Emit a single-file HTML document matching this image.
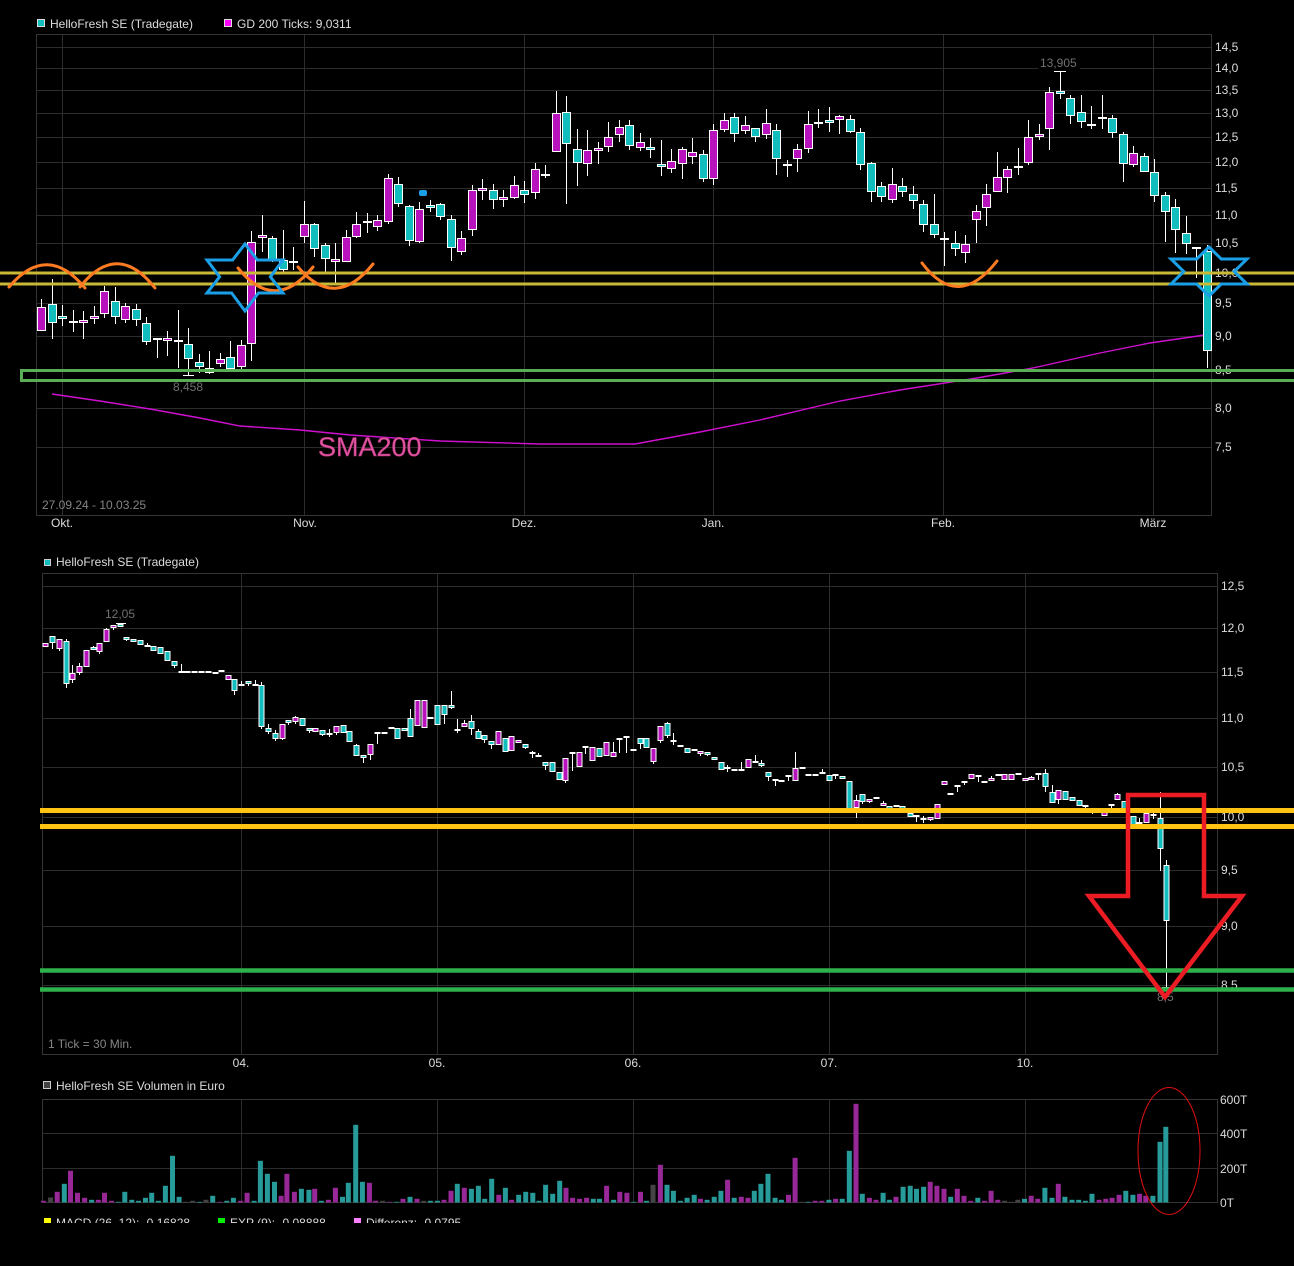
<!DOCTYPE html>
<html><head><meta charset="utf-8">
<style>
html,body{margin:0;padding:0;background:#000;}
svg{display:block;}
text{font-family:"Liberation Sans",Arial,sans-serif;font-size:12px;}
</style></head>
<body>
<svg id="s" width="1294" height="1266" viewBox="0 0 1294 1266" xmlns="http://www.w3.org/2000/svg">
<defs>
<clipPath id="clipBottom"><rect x="0" y="1210" width="1294" height="13"/></clipPath>
</defs>
<rect width="1294" height="1266" fill="#000"/>

<!-- ===== TOP CHART ===== -->
<path fill="none" stroke="#2c2c2c" stroke-width="1" d="M36 47.5H1211M36 68.5H1211M36 90.5H1211M36 113.5H1211M36 137.5H1211M36 162.5H1211M36 188.5H1211M36 215.5H1211M36 243.5H1211M36 273.5H1211M36 303.5H1211M36 336.5H1211M36 370.5H1211M36 408.5H1211M36 447.5H1211M62.5 34V515M304.5 34V515M524.5 34V515M713.5 34V515M943.5 34V515M1153.5 34V515"/>
<rect x="36.5" y="34.5" width="1175" height="481" fill="none" stroke="#353535"/>
<g fill="#dcdcdc">
<text x="1215" y="51">14,5</text>
<text x="1215" y="72">14,0</text>
<text x="1215" y="94">13,5</text>
<text x="1215" y="117">13,0</text>
<text x="1215" y="141">12,5</text>
<text x="1215" y="166">12,0</text>
<text x="1215" y="192">11,5</text>
<text x="1215" y="219">11,0</text>
<text x="1215" y="247">10,5</text>
<text x="1215" y="277">10,0</text>
<text x="1215" y="307">9,5</text>
<text x="1215" y="340">9,0</text>
<text x="1215" y="374">8,5</text>
<text x="1215" y="412">8,0</text>
<text x="1215" y="451">7,5</text>
</g>
<g fill="#dcdcdc" text-anchor="middle">
<text x="62" y="527">Okt.</text>
<text x="305" y="527">Nov.</text>
<text x="524" y="527">Dez.</text>
<text x="713" y="527">Jan.</text>
<text x="943" y="527">Feb.</text>
<text x="1153" y="527">März</text>
</g>
<rect x="37.5" y="19.5" width="7" height="7" fill="#12bdbd" stroke="#ddd"/>
<text x="50" y="28" fill="#dcdcdc">HelloFresh SE (Tradegate)</text>
<rect x="224.5" y="19.5" width="7" height="7" fill="#ff00ff" stroke="#ddd"/>
<text x="237" y="28" fill="#dcdcdc">GD 200 Ticks: 9,0311</text>
<text x="42" y="509" fill="#858585">27.09.24 - 10.03.25</text>
<text x="173" y="391" fill="#707070">8,458</text>
<rect x="1038" y="56" width="42" height="13" fill="#000"/>
<text x="1040" y="67" fill="#707070">13,905</text>

<polyline fill="none" stroke="#d010d0" stroke-width="1.4" points="52,394 100,401 150,409 200,418 240,426 300,430 350,435 440,441 540,444 635,444 700,432 760,420 840,401 900,390 977,378 1033,368 1100,353 1150,343 1205,335"/>
<text x="318" y="456" fill="#e0559f" stroke="#b0307a" stroke-width="0.5" style="font-size:27px">SMA200</text>

<g id="topc"></g>
<rect x="419" y="190" width="8" height="6" rx="2" fill="#1b9fe6"/>

<!-- top annotations -->
<line x1="0" y1="273" x2="1294" y2="273" stroke="#c9b936" stroke-width="3"/>
<line x1="0" y1="284" x2="1294" y2="284" stroke="#c9b936" stroke-width="3"/>
<rect x="21.5" y="370.5" width="1290" height="10" fill="none" stroke="#5aac55" stroke-width="3"/>
<g fill="none" stroke="#ff7b22" stroke-width="3" stroke-linecap="round">
<path d="M9 287Q47 242 85 288"/>
<path d="M80 287Q117 240 155 288"/>
<path d="M238 268Q275 314 313 267"/>
<path d="M298 267Q335 311 373 264"/>
<path d="M922 263Q958 311 997 261"/>
</g>
<g fill="none" stroke="#1b9fe6" stroke-width="3" stroke-linejoin="miter">
<polygon points="245,244 257.4,260 283,260 270.4,276.8 283,293 258.4,293 245,311 231.6,293 207,293 219.6,276.8 207,260 232.6,260"/>
<polygon points="1209,247 1221.3,259 1247,259 1234.2,271.5 1247,284 1221.3,284 1209,296 1196.7,284 1171,284 1183.8,271.5 1171,259 1196.7,259"/>
</g>

<!-- ===== BOTTOM CHART ===== -->
<path fill="none" stroke="#2c2c2c" stroke-width="1" d="M42 586.5H1217M42 628.5H1217M42 672.5H1217M42 718.5H1217M42 767.5H1217M42 817.5H1217M42 870.5H1217M42 926.5H1217M42 985.5H1217M241.5 573V1054M437.5 573V1054M633.5 573V1054M829.5 573V1054M1025.5 573V1054"/>
<rect x="42.5" y="573.5" width="1175" height="481" fill="none" stroke="#353535"/>
<g fill="#dcdcdc">
<text x="1221" y="590">12,5</text>
<text x="1221" y="632">12,0</text>
<text x="1221" y="676">11,5</text>
<text x="1221" y="722">11,0</text>
<text x="1221" y="771">10,5</text>
<text x="1221" y="821">10,0</text>
<text x="1221" y="874">9,5</text>
<text x="1221" y="930">9,0</text>
<text x="1221" y="989">8,5</text>
</g>
<g fill="#dcdcdc" text-anchor="middle">
<text x="241" y="1067">04.</text>
<text x="437" y="1067">05.</text>
<text x="633" y="1067">06.</text>
<text x="829" y="1067">07.</text>
<text x="1025" y="1067">10.</text>
</g>
<rect x="44.5" y="559.5" width="6" height="6" fill="#12bdbd" stroke="#ccc"/>
<text x="56" y="566" fill="#dcdcdc">HelloFresh SE (Tradegate)</text>
<text x="105" y="618" fill="#707070">12,05</text>
<text x="48" y="1048" fill="#858585">1 Tick = 30 Min.</text>
<text x="1157" y="1001" fill="#707070">8,5</text>

<g id="botc"></g>

<line x1="40" y1="810.5" x2="1294" y2="810.5" stroke="#ffc412" stroke-width="5"/>
<line x1="40" y1="826.5" x2="1294" y2="826.5" stroke="#ffc412" stroke-width="5"/>
<line x1="40" y1="970.5" x2="1294" y2="970.5" stroke="#2eb04a" stroke-width="4.5"/>
<line x1="40" y1="989.5" x2="1294" y2="989.5" stroke="#2eb04a" stroke-width="4.5"/>
<polygon points="1128,795 1204,795 1204,896 1242,896 1165,997 1089,896 1128,896" fill="none" stroke="#ec1c24" stroke-width="4.5" stroke-linejoin="miter"/>

<!-- ===== VOLUME ===== -->
<path fill="none" stroke="#2c2c2c" stroke-width="1" d="M42 1133.5H1217M42 1168.5H1217M241.5 1099V1202M437.5 1099V1202M633.5 1099V1202M829.5 1099V1202M1025.5 1099V1202"/>
<rect x="42.5" y="1099.5" width="1175" height="103" fill="none" stroke="#353535"/>
<g fill="#dcdcdc">
<text x="1220" y="1104">600T</text>
<text x="1220" y="1138">400T</text>
<text x="1220" y="1173">200T</text>
<text x="1220" y="1207">0T</text>
</g>
<rect x="43.5" y="1081.5" width="7" height="7" fill="#444" stroke="#ccc"/>
<text x="56" y="1090" fill="#dcdcdc">HelloFresh SE Volumen in Euro</text>
<g id="vol"></g>
<ellipse cx="1169" cy="1151" rx="31" ry="63.5" fill="none" stroke="#e01010" stroke-width="1"/>

<g clip-path="url(#clipBottom)">
<rect x="44" y="1218" width="7" height="7" fill="#ffff00"/>
<text x="56" y="1227" fill="#dcdcdc">MACD (26, 12): -0,16828</text>
<rect x="218" y="1218" width="7" height="7" fill="#00ee00"/>
<text x="230" y="1227" fill="#dcdcdc">EXP (9): -0,08888</text>
<rect x="354" y="1218" width="7" height="7" fill="#ff80ff"/>
<text x="366" y="1227" fill="#dcdcdc">Differenz: -0,0795</text>
</g>
</svg>

<script>
(function(){
var NS='http://www.w3.org/2000/svg';
function el(tag,a,p){var e=document.createElementNS(NS,tag);for(var k in a)e.setAttribute(k,a[k]);p.appendChild(e);return e;}
var COL={m:'#b812bd',c:'#12bdbd'};
function candle(p,x,bt,bb,wt,wb,t,half){
  var cx=x+0.5;
  if(wb>wt) el('line',{x1:cx,x2:cx,y1:wt,y2:wb,stroke:'#fff','stroke-width':1},p);
  if(t==='d'){
    el('rect',{x:cx-half,y:bt-1,width:half*2,height:2,fill:'#fff'},p);
  } else {
    var h=Math.max(bb-bt,3);
    el('rect',{x:cx-half+0.5,y:bt+0.5,width:half*2-1,height:h-1,fill:COL[t],stroke:'#fff','stroke-width':1},p);
  }
}
var T=[[307,331,299,331,'m'],[304,323,279,339,'c'],[316,319,305,326,'c'],[322,322,310,332,'d'],[320,322,311,339,'m'],[316,319,306,324,'m'],[291,314,286,318,'m'],[301,317,287,324,'c'],[306,320,303,323,'m'],[309,320,304,326,'c'],
[323,342,317,345,'c'],[339,339,339,358,'d'],[338,341,331,356,'m'],[341,341,310,368,'d'],[344,359,328,375,'c'],[362,367,354,373,'c'],[368,373,351,374,'m'],[359,364,353,367,'m'],[357,369,341,370,'c'],[345,367,340,370,'m'],
[242,344,231,361,'m'],[235,237,215,252,'m'],[238,260,236,262,'c'],[260,270,230,272,'c'],[262,262,247,270,'d'],[224,237,201,243,'m'],[224,249,223,257,'c'],[245,259,243,272,'c'],[259,262,243,283,'m'],[237,262,230,262,'m'],
[224,237,212,238,'m'],[222,222,213,233,'d'],[220,227,215,231,'m'],[178,222,174,224,'m'],[184,204,177,207,'c'],[206,241,205,246,'c'],[209,242,202,243,'m'],[205,208,200,212,'c'],[204,217,203,220,'c'],[219,248,215,261,'c'],
[238,252,231,255,'m'],[190,230,185,236,'m'],[188,190,179,200,'m'],[190,200,184,209,'c'],[197,200,190,207,'m'],[185,198,176,199,'m'],[190,195,181,203,'c'],[169,193,163,199,'m'],[175,175,165,178,'d'],[113,152,91,152,'m'],
[112,144,96,204,'c'],[149,163,129,186,'c'],[150,164,130,176,'m'],[148,151,142,164,'m'],[137,147,122,152,'m'],[127,135,120,142,'m'],[125,146,120,150,'c'],[142,148,133,151,'m'],[147,150,138,158,'c'],[164,166,140,176,'c'],
[161,169,149,173,'m'],[149,164,147,179,'m'],[152,157,138,164,'m'],[154,179,150,182,'c'],[130,179,124,185,'m'],[120,130,113,132,'m'],[117,134,113,142,'c'],[125,131,116,134,'m'],[128,137,128,142,'c'],[123,135,109,139,'m'],
[130,159,124,175,'c'],[165,165,160,177,'d'],[149,159,144,172,'m'],[124,149,111,153,'m'],[123,123,109,128,'d'],[120,122,107,132,'c'],[116,120,115,134,'m'],[119,132,115,133,'c'],[132,165,128,170,'c'],[163,192,162,202,'c'],
[186,197,182,202,'c'],[184,200,168,203,'m'],[186,192,178,197,'c'],[194,201,186,209,'c'],[204,225,200,232,'c'],[224,235,194,238,'c'],[239,239,232,266,'d'],[243,249,231,256,'c'],[244,253,235,263,'m'],[211,220,205,243,'m'],
[194,208,184,226,'m'],[177,192,152,192,'m'],[169,178,166,193,'m'],[167,167,148,175,'d'],[137,163,120,165,'m'],[134,136,124,140,'m'],[92,129,87,150,'m'],[91,93,71,99,'c'],[98,116,95,124,'c'],[112,122,95,128,'c'],
[125,125,106,129,'d'],[118,118,95,129,'d'],[118,133,115,138,'c'],[134,164,132,182,'c'],[153,165,146,167,'m'],[156,172,153,172,'c'],[172,196,159,202,'c'],[195,212,192,242,'c'],[207,230,199,253,'c'],[233,244,216,254,'c'],
[248,248,248,278,'d'],[251,351,245,368,'c']];
var tg=document.getElementById('topc');
for(var i=0;i<T.length;i++){var c=T[i];candle(tg,Math.round(41+i*10.5),c[0],c[1],c[2],c[3],c[4],4.5);}
el('line',{x1:183,x2:194,y1:375.5,y2:375.5,stroke:'#fff','stroke-width':1},tg);
el('line',{x1:1054,x2:1066,y1:71.5,y2:71.5,stroke:'#fff','stroke-width':1},tg);

var B=[[45,643,647,643,647,'m'],[52,636,643,636,649,'c'],[59,639,649,639,651,'m'],[66,641,684,639,688,'c'],[72,673,680,665,683,'m'],[79,666,673,663,675,'m'],[86,650,667,650,667,'m'],[93,647,650,646,650,'c'],[99,643,652,643,654,'m'],[106,629,642,628,642,'m'],
[113,625,628,625,630,'m'],[120,624,627,623,627,'c'],[126,637,640,637,641,'c'],[133,639,642,639,642,'c'],[140,640,645,640,645,'c'],[147,646,646,643,646,'d'],[153,646,651,646,651,'c'],[160,647,654,647,654,'c'],[167,651,661,651,661,'c'],[174,661,666,661,668,'c'],
[181,672,672,664,672,'d'],[187,672,672,672,672,'d'],[194,672,672,672,672,'d'],[201,672,672,672,672,'d'],[208,672,672,672,672,'d'],[215,673,673,673,673,'d'],[221,671,671,671,671,'d'],[228,675,680,675,680,'m'],[234,679,691,679,695,'c'],[241,685,685,681,685,'d'],
[248,681,683,681,686,'c'],[255,685,685,680,685,'d'],[261,685,727,682,729,'c'],[268,728,732,724,734,'c'],[275,733,739,730,741,'c'],[282,724,739,724,740,'m'],[288,720,722,720,725,'c'],[295,717,722,716,724,'m'],[302,718,726,718,726,'c'],[309,728,731,728,733,'c'],
[315,728,732,728,732,'m'],[322,730,735,730,736,'c'],[329,734,734,729,737,'d'],[336,726,733,726,735,'m'],[343,725,733,725,733,'c'],[349,731,742,731,742,'c'],[356,745,756,744,756,'c'],[363,755,758,755,763,'c'],[370,744,755,744,760,'m'],[377,733,733,733,744,'d'],
[384,733,733,733,733,'d'],[391,728,728,728,728,'d'],[397,728,739,728,739,'c'],[404,728,730,728,730,'c'],[410,718,737,709,737,'c'],[417,700,726,700,726,'m'],[424,700,728,700,728,'m'],[430,718,718,718,718,'d'],[437,705,725,705,725,'c'],[444,705,715,705,724,'c'],
[451,705,708,691,709,'c'],[457,730,730,719,733,'d'],[464,723,727,720,727,'m'],[471,721,729,715,735,'c'],[478,731,739,729,739,'c'],[484,735,740,735,743,'c'],[491,741,745,741,749,'c'],[498,731,745,731,745,'m'],[505,738,752,738,752,'c'],[511,736,751,736,751,'m'],
[518,740,743,740,743,'m'],[525,744,748,744,749,'c'],[532,753,753,751,758,'d'],[538,756,756,753,756,'d'],[545,762,766,762,770,'c'],[552,762,772,762,772,'c'],[559,772,780,772,780,'c'],[565,758,781,758,783,'m'],[572,753,753,753,771,'d'],[579,752,767,752,767,'m'],
[585,747,747,747,754,'d'],[592,747,761,747,761,'m'],[599,748,757,748,757,'c'],[606,742,756,742,756,'m'],[613,752,757,742,757,'m'],[619,739,739,739,753,'d'],[626,737,737,737,753,'d'],[633,750,750,750,750,'d'],[640,738,744,738,749,'c'],[646,738,748,738,748,'c'],
[653,748,762,748,764,'m'],[660,726,741,726,743,'m'],[667,723,736,722,738,'c'],[673,741,741,733,745,'d'],[680,746,746,746,746,'d'],[687,748,753,748,753,'c'],[694,750,750,750,750,'d'],[700,751,754,751,756,'m'],[707,752,754,752,756,'c'],[714,757,760,757,760,'c'],
[721,762,770,762,770,'c'],[727,768,768,765,772,'d'],[734,770,770,770,770,'d'],[741,770,770,762,770,'d'],[748,759,768,759,768,'m'],[755,762,762,755,762,'d'],[761,763,765,760,767,'c'],[768,772,777,772,781,'c'],[775,780,780,780,786,'d'],[781,781,781,781,781,'d'],
[788,776,776,776,781,'d'],[795,768,781,752,781,'m'],[802,768,768,768,768,'d'],[808,775,775,775,775,'d'],[815,775,775,775,775,'d'],[822,773,773,769,773,'d'],[829,775,781,775,781,'c'],[835,775,775,775,779,'d'],[842,776,779,776,779,'c'],[849,781,809,781,813,'c'],
[856,800,808,795,818,'m'],[862,794,802,794,804,'c'],[869,799,801,799,803,'m'],[876,798,798,797,799,'d'],[883,803,806,801,806,'m'],[889,806,808,806,808,'c'],[896,806,806,806,806,'d'],[902,806,810,806,810,'c'],[910,813,817,813,817,'c'],[916,816,816,816,822,'d'],
[923,819,819,816,823,'d'],[930,817,820,817,821,'m'],[937,804,819,804,819,'m'],[944,781,785,781,785,'m'],[950,794,794,794,794,'d'],[957,786,786,786,792,'d'],[964,782,782,782,785,'d'],[971,774,779,774,779,'m'],[978,776,776,776,782,'d'],[984,782,782,782,782,'d'],
[991,778,781,776,781,'m'],[998,775,775,775,775,'d'],[1004,774,780,774,780,'m'],[1011,774,780,774,780,'m'],[1018,774,774,774,774,'d'],[1025,778,780,778,780,'m'],[1031,777,780,776,780,'m'],[1038,774,774,774,780,'d'],[1045,773,787,769,792,'c'],[1052,792,803,785,803,'c'],
[1058,790,800,790,804,'m'],[1065,791,800,791,800,'c'],[1072,797,801,797,801,'c'],[1079,800,806,800,806,'c'],[1085,806,806,805,809,'d'],[1092,812,812,809,814,'d'],[1098,809,809,809,812,'d'],[1104,809,816,809,816,'m'],[1111,805,805,804,810,'d'],[1117,794,800,793,800,'m'],
[1124,801,812,801,812,'c'],[1133,816,825,816,825,'c'],[1139,823,823,818,826,'d'],[1146,813,823,813,823,'m'],[1153,815,815,812,819,'d'],[1160,818,849,792,871,'c'],[1166,865,921,860,987,'c']];
var bg=document.getElementById('botc');
for(var j=0;j<B.length;j++){var b=B[j];candle(bg,b[0],b[1],b[2],b[3],b[4],b[5],3);}
el('line',{x1:116,x2:126,y1:623.5,y2:623.5,stroke:'#fff','stroke-width':1},bg);
el('line',{x1:1162,x2:1171,y1:987.5,y2:987.5,stroke:'#fff','stroke-width':1},bg);

var V=[[43.5,1.7,'m'],[50.6,5,'g'],[57.2,10.7,'m'],[64.3,18.7,'c'],[70.5,31.7,'m'],[77.5,9.7,'m'],[84.6,4.7,'m'],[91.6,2.7,'c'],[98.3,2.7,'m'],[104.5,9.7,'m'],[111.5,1.7,'m'],[118.6,0.7,'c'],[124.8,10.7,'c'],[131.8,2.7,'c'],[138.5,1.7,'c'],[145.5,4.7,'c'],[151.7,9.7,'c'],[158.4,1.7,'c'],[165.4,16.7,'c'],[172.5,46.7,'c'],[179.1,5.7,'c'],[185.7,0.7,'g'],[192.8,1.7,'g'],[199.8,0.7,'c'],[206,2.7,'g'],[212.7,6.7,'c'],[219.7,0.7,'m'],[226.8,1.7,'c'],[233.4,4.7,'c'],[240.5,1.7,'m'],[247.1,9.7,'m'],[254.1,1.7,'c'],[260.4,41.7,'c'],[267.4,28.7,'c'],[274.5,20.7,'c'],[281.1,6.7,'m'],[286.9,28.7,'m'],[294.4,10.7,'m'],[301.4,13.7,'c'],[308.9,12.7,'c'],[314.7,13.7,'m'],[321.3,1.7,'c'],[328.4,2.7,'m'],[335.4,14.7,'m'],[342.5,5.7,'c'],[348.3,19.7,'c'],[355.7,77.7,'c'],[362.4,20.7,'c'],[369.4,19.7,'m'],[375.6,1.7,'m'],[382.7,1.7,'g'],[389.7,0.7,'m'],[396.8,0.7,'c'],[403,3.7,'m'],[410,5.7,'c'],[417,3.7,'m'],[423.7,1.7,'g'],[430.3,1.7,'c'],[437.4,1.7,'c'],[444,2.7,'m'],[451,11.7,'m'],[457.3,18.7,'c'],[464.3,14.7,'m'],[471.4,13.7,'c'],[478.4,16.7,'c'],[484.7,3.7,'c'],[491.7,23.7,'c'],[498.8,7.7,'m'],[505.4,14.7,'c'],[511.6,2.7,'m'],[518.7,7.7,'c'],[525.7,10.7,'c'],[532.8,9.7,'c'],[539,1.7,'c'],[545.6,17.7,'c'],[552.7,8.7,'c'],[559.7,21.7,'c'],[566,14.7,'m'],[572.6,4.7,'m'],[579.6,3.7,'m'],[586.6,4.7,'m'],[593.3,3.7,'c'],[599.5,3.7,'c'],[606.6,16.7,'m'],[613.6,2.7,'c'],[619.8,10.7,'m'],[626.9,9.7,'m'],[633.5,0.7,'c'],[640.5,10.7,'m'],[646.5,1.7,'c'],[653,17.7,'g'],[660.4,37.7,'m'],[667,17.7,'c'],[673.4,11.7,'c'],[680.4,1.7,'c'],[687.1,4.7,'c'],[694.2,7.7,'c'],[700.5,3.7,'m'],[707.1,2.7,'c'],[714.2,5.7,'c'],[720.9,11.7,'c'],[727.6,22.7,'m'],[734.2,4.7,'c'],[741.3,5.7,'m'],[748,4.7,'m'],[754.3,11.7,'c'],[760.9,18.7,'c'],[768,28.7,'c'],[775.1,4.7,'c'],[781.4,2.7,'c'],[788.5,7.7,'m'],[795.1,44.7,'m'],[801.8,0.7,'g'],[808.1,0.7,'c'],[815.1,1.7,'m'],[821.8,1.7,'m'],[828.9,2.7,'c'],[835.6,3.7,'m'],[842.2,3.7,'c'],[849.3,51.7,'c'],[856,98.7,'m'],[862.3,8.7,'c'],[869.4,4.7,'m'],[876,2.7,'m'],[883.1,9.7,'c'],[889.4,2.7,'c'],[896,5.7,'m'],[903.1,15.7,'c'],[910.2,16.7,'c'],[916.5,13.7,'c'],[923.6,15.7,'c'],[930.2,20.7,'m'],[936.9,16.7,'m'],[944,13.7,'m'],[950.7,5.7,'c'],[957.3,13.7,'m'],[964,6.7,'m'],[970.7,1.7,'m'],[977.8,4.7,'c'],[984.5,1.7,'m'],[991.1,11.7,'m'],[997.8,2.7,'m'],[1004.5,1.7,'g'],[1011.1,0.7,'g'],[1017.8,2.7,'g'],[1024.5,3.7,'c'],[1031.2,6.7,'m'],[1037.8,3.7,'m'],[1044.9,14.7,'c'],[1052,4.7,'c'],[1058.3,18.7,'m'],[1064.9,5.7,'c'],[1072,2.7,'c'],[1078.7,2.7,'c'],[1085.4,1.7,'c'],[1092,8.7,'c'],[1099.1,2.7,'m'],[1105.8,3.7,'m'],[1112.1,4.7,'m'],[1119.1,7.7,'m'],[1125.8,11.7,'c'],[1132.9,7.7,'c'],[1139.6,8.7,'m'],[1145.8,6.7,'m'],[1152.9,6.7,'c'],[1160,60.7,'c'],[1165.8,75.7,'c']];
var VC={c:'#279a9a',m:'#982898',g:'#444444'};
var vg=document.getElementById('vol');
for(var k=0;k<V.length;k++){var v=V[k];el('rect',{x:(v[0]-2.5).toFixed(1),y:(1202.5-v[1]).toFixed(1),width:5,height:v[1].toFixed(1),fill:VC[v[2]]},vg);}
})();
</script>
</body></html>
